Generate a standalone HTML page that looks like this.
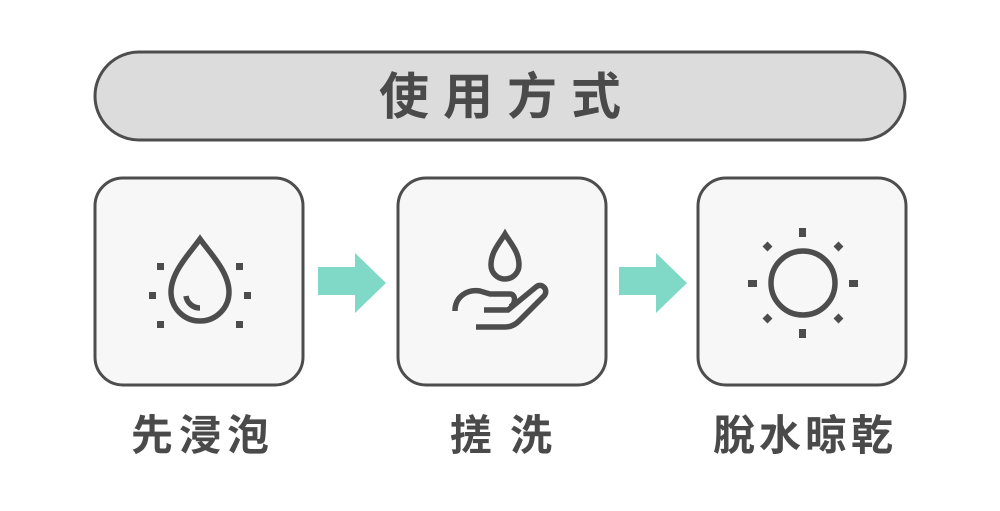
<!DOCTYPE html>
<html><head><meta charset="utf-8"><style>
html,body{margin:0;padding:0;background:#fff;width:1000px;height:511px;overflow:hidden}
svg{display:block}
text{font-family:"Liberation Sans","Noto Sans CJK TC",sans-serif;font-weight:bold;fill:#4a4a4a}
</style></head><body>
<svg width="1000" height="511" viewBox="0 0 1000 511">
<rect x="95" y="52" width="810" height="88" rx="44" fill="#dcdcdc" stroke="#4d4d4d" stroke-width="3"/>
<text x="507" y="114" font-size="50" text-anchor="middle" letter-spacing="14">使用方式</text>
<g fill="#f7f7f7" stroke="#4d4d4d" stroke-width="3">
<rect x="95" y="178" width="208" height="207" rx="28"/>
<rect x="398" y="178" width="208" height="207" rx="28"/>
<rect x="698" y="178" width="208" height="207" rx="28"/>
</g>
<g fill="#80d9c6">
<polygon points="318,267 355,267 355,253 386,283 355,313 355,295 318,295"/>
<polygon points="619,267 656,267 656,253 687,283 656,313 656,295 619,295"/>
</g>
<g stroke="#4d4d4d" stroke-width="5.5" fill="none">
<path d="M200,239 C190,253 171,272 171,292 A29,29 0 0 0 229,292 C229,272 210,253 200,239 Z"/>
<path d="M186,296 A14,14 0 0 0 200,308"/>
<path d="M505,234 C499,244 491,252 491,265 A14,14 0 0 0 519,265 C519,252 511,244 505,234 Z"/>
<path d="M455,311 C455,296 468,289 480,291 L490,294 L510,294 C516,294 516,304 510,307"/>
<path d="M484,310 L508,310 L536,287 C542,282 549,290 544,296 L519,321 C515,325 510,327 505,327 L476,327"/>
<circle cx="803" cy="283" r="32"/>
</g>
<g fill="#4d4d4d">
<rect x="157" y="263" width="7" height="7"/><rect x="236" y="263" width="7" height="7"/>
<rect x="149" y="292" width="7" height="7"/><rect x="244" y="292" width="7" height="7"/>
<rect x="157" y="321" width="7" height="7"/><rect x="236" y="321" width="7" height="7"/>
<rect x="799" y="228" width="7" height="9"/><rect x="799" y="329" width="7" height="9"/>
<rect x="748" y="280" width="9" height="7"/><rect x="849" y="280" width="9" height="7"/>
<rect x="764" y="243" width="7" height="7" transform="rotate(45 767.5 246.5)"/>
<rect x="835" y="243" width="7" height="7" transform="rotate(45 838.5 246.5)"/>
<rect x="764" y="315" width="7" height="7" transform="rotate(45 767.5 318.5)"/>
<rect x="835" y="315" width="7" height="7" transform="rotate(45 838.5 318.5)"/>
</g>
<text x="203" y="450" font-size="42" text-anchor="middle" letter-spacing="6">先浸泡</text>
<text x="471" y="450" font-size="42" text-anchor="middle">搓</text>
<text x="531" y="450" font-size="42" text-anchor="middle">洗</text>
<text x="805" y="450" font-size="42" text-anchor="middle" letter-spacing="4">脫水晾乾</text>
</svg>
</body></html>
